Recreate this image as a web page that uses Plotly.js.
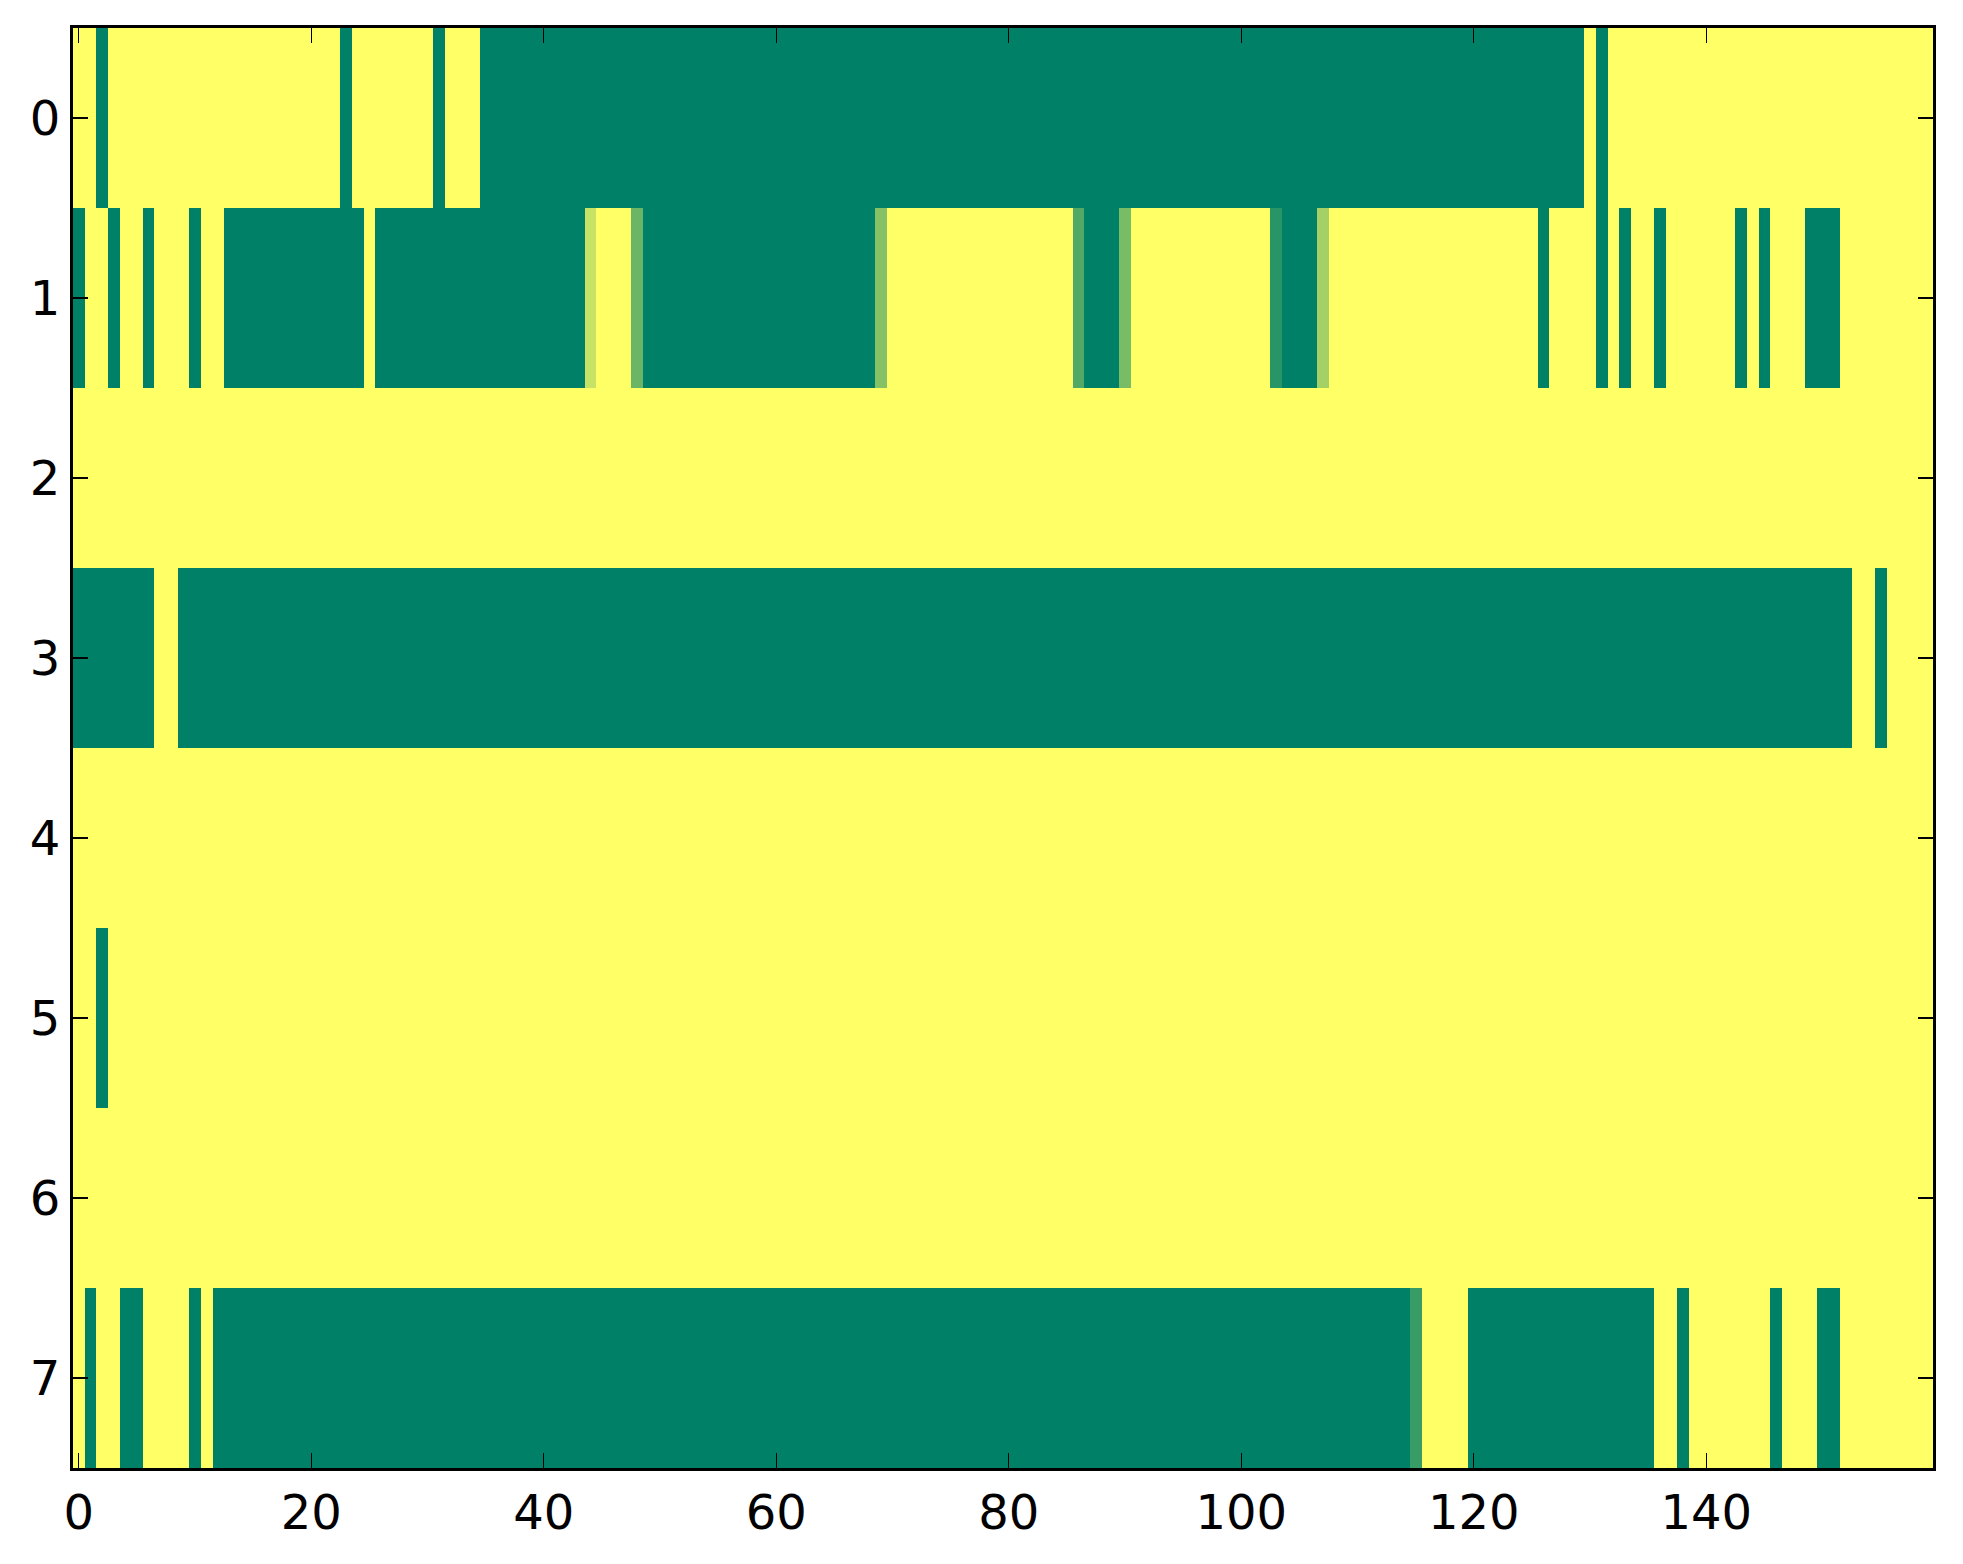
<!DOCTYPE html>
<html>
<head>
<meta charset="utf-8">
<script src="https://cdn.plot.ly/plotly-3.0.1.min.js"></script>
<style>
  html, body { margin: 0; padding: 0; background: #ffffff; }
  #chart { width: 1963px; height: 1564px; }
</style>
</head>
<body>
<div id="chart"></div>
<script>
// Row values (0 = dark green, 1 = yellow, "summer" colormap), 160 columns each
var row0 = [
  1,1,0,1,1,1,1,1,1,1, 1,1,1,1,1,1,1,1,1,1,
  1,1,1,0,1,1,1,1,1,1, 1,0,1,1,1,0,0,0,0,0,
  0,0,0,0,0,0,0,0,0,0, 0,0,0,0,0,0,0,0,0,0,
  0,0,0,0,0,0,0,0,0,0, 0,0,0,0,0,0,0,0,0,0,
  0,0,0,0,0,0,0,0,0,0, 0,0,0,0,0,0,0,0,0,0,
  0,0,0,0,0,0,0,0,0,0, 0,0,0,0,0,0,0,0,0,0,
  0,0,0,0,0,0,0,0,0,0, 1,0,1,1,1,1,1,1,1,1,
  1,1,1,1,1,1,1,1,1,1, 1,1,1,1,1,1,1,1,1,1
];
var row1 = [
  0,1,1,0,1,1,0,1,1,1, 0,1,1,0,0,0,0,0,0,0,
  0,0,0,0,0,1,0,0,0,0, 0,0,0,0,0,0,0,0,0,0,
  0,0,0,0,0.78,1,1,1,0.42,0, 0,0,0,0,0,0,0,0,0,0,
  0,0,0,0,0,0,0,0,0,0.52, 1,1,1,1,1,1,1,1,1,1,
  1,1,1,1,1,1,0.32,0,0,0, 0.47,1,1,1,1,1,1,1,1,1,
  1,1,1,0.16,0,0,0,0.64,1,1, 1,1,1,1,1,1,1,1,1,1,
  1,1,1,1,1,1,0,1,1,1, 1,0,1,0,1,1,0,1,1,1,
  1,1,1,0,1,0,1,1,1,0, 0,0,1,1,1,1,1,1,1,1
];
var row2 = [
  1,1,1,1,1,1,1,1,1,1, 1,1,1,1,1,1,1,1,1,1,
  1,1,1,1,1,1,1,1,1,1, 1,1,1,1,1,1,1,1,1,1,
  1,1,1,1,1,1,1,1,1,1, 1,1,1,1,1,1,1,1,1,1,
  1,1,1,1,1,1,1,1,1,1, 1,1,1,1,1,1,1,1,1,1,
  1,1,1,1,1,1,1,1,1,1, 1,1,1,1,1,1,1,1,1,1,
  1,1,1,1,1,1,1,1,1,1, 1,1,1,1,1,1,1,1,1,1,
  1,1,1,1,1,1,1,1,1,1, 1,1,1,1,1,1,1,1,1,1,
  1,1,1,1,1,1,1,1,1,1, 1,1,1,1,1,1,1,1,1,1
];
var row3 = [
  0,0,0,0,0,0,0,1,1,0, 0,0,0,0,0,0,0,0,0,0,
  0,0,0,0,0,0,0,0,0,0, 0,0,0,0,0,0,0,0,0,0,
  0,0,0,0,0,0,0,0,0,0, 0,0,0,0,0,0,0,0,0,0,
  0,0,0,0,0,0,0,0,0,0, 0,0,0,0,0,0,0,0,0,0,
  0,0,0,0,0,0,0,0,0,0, 0,0,0,0,0,0,0,0,0,0,
  0,0,0,0,0,0,0,0,0,0, 0,0,0,0,0,0,0,0,0,0,
  0,0,0,0,0,0,0,0,0,0, 0,0,0,0,0,0,0,0,0,0,
  0,0,0,0,0,0,0,0,0,0, 0,0,0,1,1,0,1,1,1,1
];
var row4 = [
  1,1,1,1,1,1,1,1,1,1, 1,1,1,1,1,1,1,1,1,1,
  1,1,1,1,1,1,1,1,1,1, 1,1,1,1,1,1,1,1,1,1,
  1,1,1,1,1,1,1,1,1,1, 1,1,1,1,1,1,1,1,1,1,
  1,1,1,1,1,1,1,1,1,1, 1,1,1,1,1,1,1,1,1,1,
  1,1,1,1,1,1,1,1,1,1, 1,1,1,1,1,1,1,1,1,1,
  1,1,1,1,1,1,1,1,1,1, 1,1,1,1,1,1,1,1,1,1,
  1,1,1,1,1,1,1,1,1,1, 1,1,1,1,1,1,1,1,1,1,
  1,1,1,1,1,1,1,1,1,1, 1,1,1,1,1,1,1,1,1,1
];
var row5 = [
  1,1,0,1,1,1,1,1,1,1, 1,1,1,1,1,1,1,1,1,1,
  1,1,1,1,1,1,1,1,1,1, 1,1,1,1,1,1,1,1,1,1,
  1,1,1,1,1,1,1,1,1,1, 1,1,1,1,1,1,1,1,1,1,
  1,1,1,1,1,1,1,1,1,1, 1,1,1,1,1,1,1,1,1,1,
  1,1,1,1,1,1,1,1,1,1, 1,1,1,1,1,1,1,1,1,1,
  1,1,1,1,1,1,1,1,1,1, 1,1,1,1,1,1,1,1,1,1,
  1,1,1,1,1,1,1,1,1,1, 1,1,1,1,1,1,1,1,1,1,
  1,1,1,1,1,1,1,1,1,1, 1,1,1,1,1,1,1,1,1,1
];
var row6 = [
  1,1,1,1,1,1,1,1,1,1, 1,1,1,1,1,1,1,1,1,1,
  1,1,1,1,1,1,1,1,1,1, 1,1,1,1,1,1,1,1,1,1,
  1,1,1,1,1,1,1,1,1,1, 1,1,1,1,1,1,1,1,1,1,
  1,1,1,1,1,1,1,1,1,1, 1,1,1,1,1,1,1,1,1,1,
  1,1,1,1,1,1,1,1,1,1, 1,1,1,1,1,1,1,1,1,1,
  1,1,1,1,1,1,1,1,1,1, 1,1,1,1,1,1,1,1,1,1,
  1,1,1,1,1,1,1,1,1,1, 1,1,1,1,1,1,1,1,1,1,
  1,1,1,1,1,1,1,1,1,1, 1,1,1,1,1,1,1,1,1,1
];
var row7 = [
  1,0,1,1,0,0,1,1,1,1, 0,1,0,0,0,0,0,0,0,0,
  0,0,0,0,0,0,0,0,0,0, 0,0,0,0,0,0,0,0,0,0,
  0,0,0,0,0,0,0,0,0,0, 0,0,0,0,0,0,0,0,0,0,
  0,0,0,0,0,0,0,0,0,0, 0,0,0,0,0,0,0,0,0,0,
  0,0,0,0,0,0,0,0,0,0, 0,0,0,0,0,0,0,0,0,0,
  0,0,0,0,0,0,0,0,0,0, 0,0,0,0,0,0.22,1,1,1,1,
  0,0,0,0,0,0,0,0,0,0, 0,0,0,0,0,0,1,1,0,1,
  1,1,1,1,1,1,0,1,1,1, 0,0,1,1,1,1,1,1,1,1
];

var xTickVals = [0, 20, 40, 60, 80, 100, 120, 140];
var yTickVals = [0, 1, 2, 3, 4, 5, 6, 7];

var zRows = [row0, row1, row2, row3, row4, row5, row6, row7];

var trace = {
  type: 'heatmap',
  z: zRows,
  zmin: 0,
  zmax: 1,
  colorscale: [[0, '#008066'], [1, '#ffff66']],
  showscale: false,
  hoverinfo: 'skip'
};

var axisFont = { family: 'DejaVu Sans, sans-serif', size: 48, color: '#000000' };

var layout = {
  width: 1963,
  height: 1564,
  margin: { l: 73, r: 30, t: 28, b: 96, pad: 0 },
  paper_bgcolor: '#ffffff',
  plot_bgcolor: '#ffffff',
  showlegend: false,
  xaxis: {
    range: [-0.5, 159.5],
    tickmode: 'array',
    tickvals: xTickVals,
    ticktext: xTickVals.map(String),
    ticks: 'inside',
    ticklen: 15,
    tickwidth: 1.3,
    tickcolor: '#000000',
    showline: true,
    linecolor: '#000000',
    linewidth: 3,
    mirror: 'ticks',
    showgrid: false,
    zeroline: false,
    tickfont: axisFont
  },
  yaxis: {
    range: [7.5, -0.5],
    tickmode: 'array',
    tickvals: yTickVals,
    ticktext: yTickVals.map(String),
    ticks: 'inside',
    ticklen: 15,
    tickwidth: 1.3,
    tickcolor: '#000000',
    showline: true,
    linecolor: '#000000',
    linewidth: 3,
    mirror: 'ticks',
    showgrid: false,
    zeroline: false,
    tickfont: axisFont
  }
};

Plotly.newPlot('chart', [trace], layout, { displayModeBar: false, staticPlot: true });
</script>
</body>
</html>
